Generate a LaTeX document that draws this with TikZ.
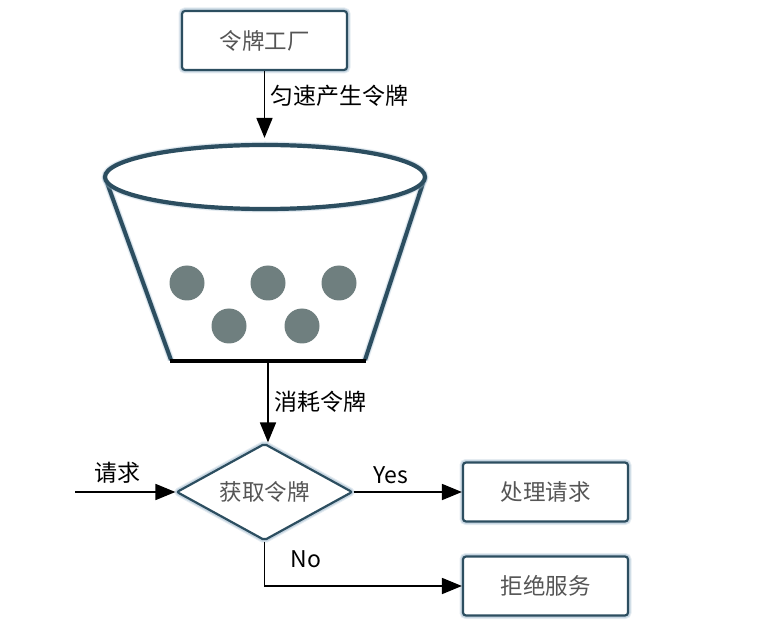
\documentclass[tikz,border=0pt]{standalone}
\usepackage{fontspec}
\setmainfont{Noto Sans CJK SC}
\usetikzlibrary{shapes.geometric,arrows.meta}
\definecolor{edge}{HTML}{2C4E60}
\definecolor{halo}{HTML}{A9C0D2}
\definecolor{txt}{HTML}{555555}
\definecolor{token}{HTML}{6F7F7F}

\begin{document}
\begin{tikzpicture}[x=1pt,y=-1pt,
  glow/.style={preaction={draw=halo,line width=7pt,opacity=0.3},preaction={draw=halo,line width=5pt,opacity=0.5}},
  procbox/.style={draw=edge,line width=2.2pt,fill=white,rounded corners=3pt,minimum width=165pt,minimum height=59pt,
    text=txt,font=\fontsize{22.5}{26}\selectfont,glow},
  decision/.style={diamond,aspect=1.8,draw=edge,line width=2.2pt,fill=white,rounded corners=2pt,minimum width=176pt,minimum height=97pt,
    inner sep=0pt,text=txt,font=\fontsize{22.5}{26}\selectfont,glow},
  flow/.style={black,line width=1.8pt,-{Triangle[length=20pt,width=16pt]}},
  lbl/.style={font=\fontsize{23}{26}\selectfont}]
  \useasboundingbox (0,0) rectangle (766,644);

  % bucket
  \draw[edge,line width=4pt,glow] (105,177)--(171,360) (425,177)--(365,360);
  \node[ellipse,draw=edge,line width=4.2pt,fill=white,minimum width=320pt,minimum height=64pt,glow] (mouth) at (265,177) {};
  \draw[black,line width=4.5pt] (170,361)-- coordinate[pos=0.5] (outlet) (366,361);
  \foreach \x/\y in {187/283,268/283,339/283,229/326,302/326}
    \fill[token] (\x,\y) circle (17.5);

  \node[procbox] (factory) at (264.5,40.5) {令牌工厂};
  \node[decision] (take) at (264.5,492) {获取令牌};
  \node[procbox] (serve) at (545.5,492) {处理请求};
  \node[procbox] (refuse) at (545.5,586) {拒绝服务};
  \coordinate (request) at (75,492);

  \draw[flow,shorten >=5pt] (factory.south)--(factory.south|-mouth.north) node[pos=0.34,right=2pt,lbl]{匀速产生令牌};
  \draw[flow] (outlet)--(outlet|-take.north) node[pos=0.5,right=2pt,lbl]{消耗令牌};
  \draw[flow] (request)--(take.west) node[pos=0.42,above=4pt,lbl]{请求};
  \draw[flow] (take.east)--(serve.west) node[pos=0.34,above=4pt,lbl]{Yes};
  \draw[flow] (take.south)|-(refuse.west) node[pos=0.2,right=22pt,lbl]{No};
\end{tikzpicture}
\end{document}
